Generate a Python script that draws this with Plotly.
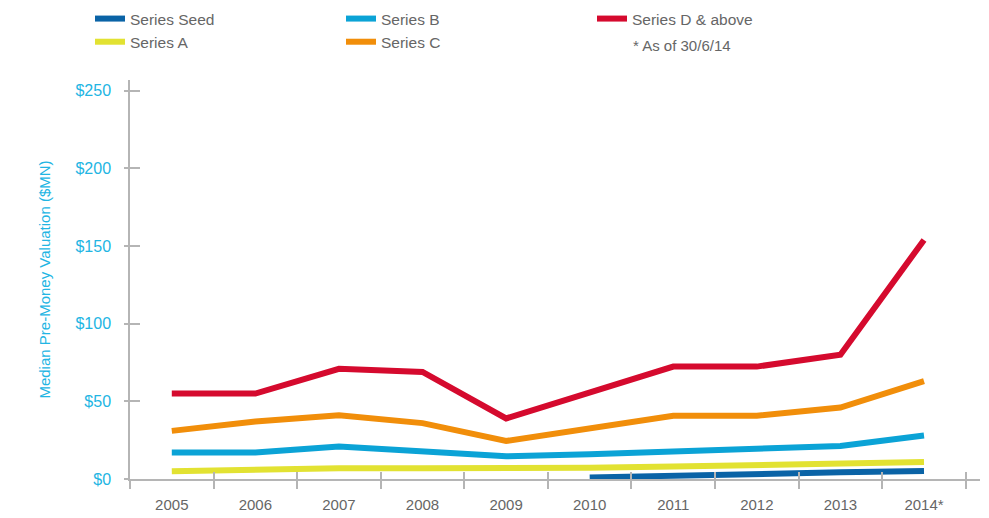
import plotly.graph_objects as go

# Median pre-money valuation by round, $MN
years = ["2005", "2006", "2007", "2008", "2009", "2010", "2011", "2012", "2013", "2014*"]
series_seed = [None, None, None, None, None, 1, 2.4, 3.2, 4.3, 5.2]
series_a = [5, 6, 7, 7, 7, 7.3, 8, 9, 10.3, 11]
series_b = [17, 17, 21, 18, 14.6, 16, 18, 19.6, 21.3, 28]
series_c = [31, 37, 41, 36, 24.5, 33, 40.7, 40.7, 46, 63]
series_d = [55, 55, 71, 69, 39, 56, 72.4, 72.4, 80, 154]

y_ticks = [0, 50, 100, 150, 200, 250]
y_tick_text = ["$0", "$50", "$100", "$150", "$200", "$250"]

series = [
    # name, values, colour, legend rank
    ("Series Seed", series_seed, "#0a63a6", 1),
    ("Series A", series_a, "#e2e232", 4),
    ("Series B", series_b, "#0ba3d6", 2),
    ("Series C", series_c, "#f18e0a", 5),
    ("Series D & above", series_d, "#d50a2e", 3),
]

FONT = "Liberation Sans, Arial, sans-serif"
GREY_TEXT = "#666666"
AXIS_GREY = "#b5b5b5"
CYAN = "#22b5e3"

fig = go.Figure()
for name, vals, colour, rank in series:
    fig.add_trace(go.Scatter(
        x=years, y=vals, name=name, mode="lines",
        line=dict(color=colour, width=6),
        legendrank=rank, connectgaps=False,
    ))

x_range = [-0.5, 9.67]
y_range = [0, 257]

fig.update_layout(
    width=989, height=518,
    margin=dict(l=130, r=9, t=80, b=39),
    paper_bgcolor="white", plot_bgcolor="white",
    font=dict(family=FONT, color=GREY_TEXT, size=15),
    showlegend=True,
    legend=dict(
        orientation="h", xref="container", yref="container",
        x=90 / 989, y=1 - 2 / 518, xanchor="left", yanchor="top",
        entrywidth=206, font=dict(size=15.5, color=GREY_TEXT),
        bgcolor="rgba(0,0,0,0)", tracegroupgap=0,
    ),
    xaxis=dict(
        type="category", range=x_range, automargin=False,
        showgrid=False, zeroline=False,
        showline=True, linecolor=AXIS_GREY, linewidth=1.5,
        ticks="outside", ticklen=8, tickcolor=AXIS_GREY, tickwidth=1.5,
        tickson="boundaries", ticklabelstandoff=11,
        tickfont=dict(size=15, color=GREY_TEXT),
    ),
    yaxis=dict(
        range=y_range, automargin=False,
        showgrid=False, zeroline=False,
        showline=True, linecolor=AXIS_GREY, linewidth=1.5,
        tickvals=y_ticks, ticktext=y_tick_text,
        ticks="outside", ticklen=4, tickcolor=AXIS_GREY, tickwidth=1.5,
        ticklabelstandoff=10,
        tickfont=dict(size=16, color=CYAN),
        title=dict(text="Median Pre-Money Valuation ($MN)",
                   font=dict(size=15, color=CYAN), standoff=21),
    ),
    # overlay axes carrying the inward halves of the tick marks
    xaxis2=dict(
        overlaying="x", anchor="y", range=x_range, automargin=False,
        showgrid=False, zeroline=False, showline=False,
        tickvals=[i - 0.5 for i in range(len(years) + 1)],
        ticks="inside", ticklen=7, tickcolor=AXIS_GREY, tickwidth=1.5,
        showticklabels=False,
    ),
    yaxis2=dict(
        overlaying="y", anchor="x", range=y_range, automargin=False,
        showgrid=False, zeroline=False, showline=False,
        tickvals=y_ticks, ticks="inside", ticklen=10,
        tickcolor=AXIS_GREY, tickwidth=1.5, showticklabels=False,
    ),
    annotations=[dict(
        text="* As of 30/6/14", xref="paper", yref="paper",
        x=(631 - 130) / 850, y=(518 - 46 - 39) / 399,
        xanchor="left", yanchor="middle", showarrow=False,
        font=dict(size=15, color=GREY_TEXT),
    )],
)

fig.add_trace(go.Scatter(x=[None], y=[None], xaxis="x2", yaxis="y2",
                         showlegend=False, hoverinfo="skip"))

fig.write_html("out.html")
